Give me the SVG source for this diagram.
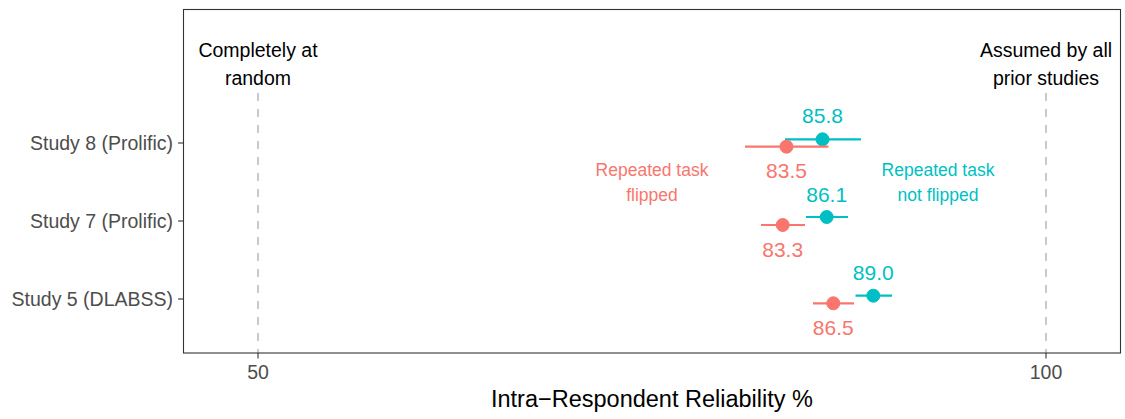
<svg xmlns="http://www.w3.org/2000/svg" width="1125" height="419" viewBox="0 0 1125 419">
  <style>
    text { font-family: "Liberation Sans", Arial, sans-serif; }
    .tick { fill: #4D4D4D; font-size: 19.5px; }
    .note { fill: #000000; font-size: 19.5px; text-anchor: middle; }
    .val { font-size: 21px; text-anchor: middle; }
    .leg { font-size: 17.5px; text-anchor: middle; }
    .flip { fill: #F8766D; stroke: #F8766D; }
    .noflip { fill: #00BFC4; stroke: #00BFC4; }
    .ref { stroke: #BEBEBE; stroke-width: 1.6; stroke-dasharray: 8 8; fill: none; }
    .axis { stroke: #333333; stroke-width: 1.1; fill: none; }
    .ci { stroke-width: 2.2; fill: none; }
  </style>
  <rect width="1125" height="419" fill="#FFFFFF"/>

  <!-- reference lines at 50% and 100% -->
  <g id="reference-lines">
    <line class="ref" x1="258" y1="93" x2="258" y2="353"/>
    <line class="ref" x1="1046" y1="93" x2="1046" y2="353"/>
  </g>

  <!-- annotations above reference lines -->
  <g id="label-random">
    <text class="note" x="258" y="57">Completely at</text>
    <text class="note" x="258" y="85">random</text>
  </g>
  <g id="label-prior">
    <text class="note" x="1046" y="57">Assumed by all</text>
    <text class="note" x="1046" y="85">prior studies</text>
  </g>

  <!-- group legends -->
  <g id="legend-flipped">
    <text class="leg" x="652" y="176" fill="#F8766D">Repeated task</text>
    <text class="leg" x="652" y="201" fill="#F8766D">flipped</text>
  </g>
  <g id="legend-not-flipped">
    <text class="leg" x="938" y="176" fill="#00BFC4">Repeated task</text>
    <text class="leg" x="938" y="201" fill="#00BFC4">not flipped</text>
  </g>

  <!-- estimates with intervals -->
  <g id="study8">
    <line class="ci noflip" x1="785" y1="139.3" x2="861" y2="139.3"/>
    <circle class="noflip" cx="822.5" cy="139.3" r="6.5" stroke="none"/>
    <text class="val" x="822.5" y="123" fill="#00BFC4">85.8</text>
    <line class="ci flip" x1="745" y1="146.7" x2="828.5" y2="146.7"/>
    <circle class="flip" cx="786.5" cy="146.7" r="6.5" stroke="none"/>
    <text class="val" x="786.5" y="178" fill="#F8766D">83.5</text>
  </g>
  <g id="study7">
    <line class="ci noflip" x1="806" y1="217" x2="848" y2="217"/>
    <circle class="noflip" cx="826.7" cy="217" r="6.5" stroke="none"/>
    <text class="val" x="826.7" y="202" fill="#00BFC4">86.1</text>
    <line class="ci flip" x1="761" y1="225" x2="805" y2="225"/>
    <circle class="flip" cx="782.7" cy="225" r="6.5" stroke="none"/>
    <text class="val" x="782.7" y="256.5" fill="#F8766D">83.3</text>
  </g>
  <g id="study5">
    <line class="ci noflip" x1="855.5" y1="295.7" x2="892" y2="295.7"/>
    <circle class="noflip" cx="873.3" cy="295.7" r="6.5" stroke="none"/>
    <text class="val" x="873.3" y="280" fill="#00BFC4">89.0</text>
    <line class="ci flip" x1="813" y1="303.3" x2="854" y2="303.3"/>
    <circle class="flip" cx="833.3" cy="303.3" r="6.5" stroke="none"/>
    <text class="val" x="833.3" y="334.5" fill="#F8766D">86.5</text>
  </g>

  <!-- panel frame and axes -->
  <g id="axes">
    <rect class="axis" x="183.5" y="9.5" width="937" height="343.5"/>
    <line class="axis" x1="178" y1="143" x2="183.5" y2="143"/>
    <line class="axis" x1="178" y1="221" x2="183.5" y2="221"/>
    <line class="axis" x1="178" y1="299" x2="183.5" y2="299"/>
    <line class="axis" x1="258" y1="353" x2="258" y2="358.5"/>
    <line class="axis" x1="1046" y1="353" x2="1046" y2="358.5"/>
    <text class="tick" x="173" y="150" text-anchor="end">Study 8 (Prolific)</text>
    <text class="tick" x="173" y="228" text-anchor="end">Study 7 (Prolific)</text>
    <text class="tick" x="173" y="306" text-anchor="end">Study 5 (DLABSS)</text>
    <text class="tick" x="258" y="379" text-anchor="middle">50</text>
    <text class="tick" x="1046" y="379" text-anchor="middle">100</text>
    <text x="652" y="407" text-anchor="middle" font-size="23.5" fill="#000000">Intra−Respondent Reliability %</text>
  </g>
</svg>
